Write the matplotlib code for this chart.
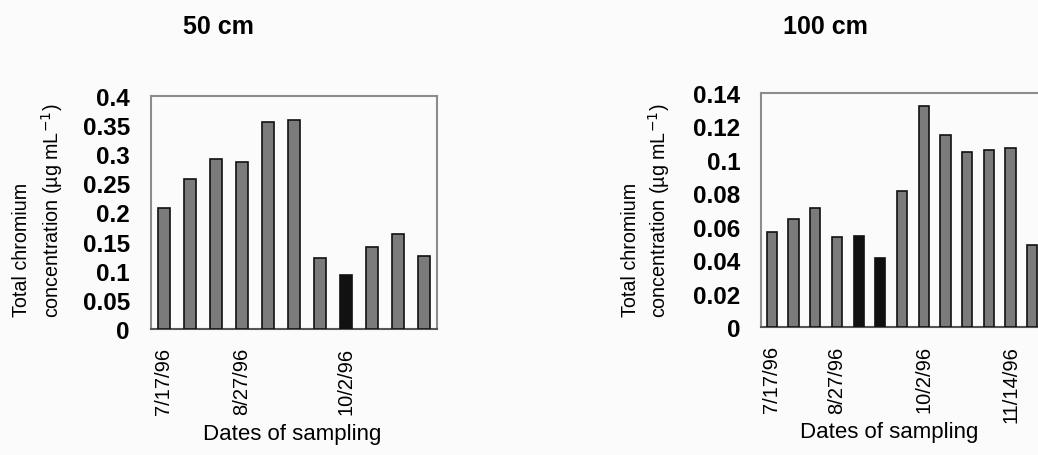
import numpy as np
import matplotlib.pyplot as plt

plt.rcParams['font.family'] = ['Liberation Sans', 'DejaVu Sans']

# 50 cm depth
dates_50 = ["7/17/96", "", "", "8/27/96", "", "", "", "10/2/96", "", "", ""]
cr_50 = [0.208, 0.258, 0.291, 0.287, 0.355, 0.359, 0.122, 0.092, 0.140, 0.163, 0.125]

# 100 cm depth
dates_100 = ["7/17/96", "", "", "8/27/96", "", "", "", "10/2/96", "", "", "", "11/14/96", ""]
cr_100 = [0.0568, 0.0648, 0.0712, 0.0538, 0.0548, 0.0413, 0.0817, 0.1322,
          0.1150, 0.1050, 0.1060, 0.1070, 0.0494]

# bars that came out dark in the scan
dark_50 = [7]
dark_100 = [4, 5]

bg = '#fbfbfb'
fig = plt.figure(figsize=(10.38, 4.56), dpi=100, facecolor=bg)


def panel(rect, vals, labels, dark, ymax, step, nslots):
    ax = fig.add_axes(rect)
    ax.set_facecolor(bg)
    x = np.arange(len(vals))
    cols = ['#111111' if i in dark else '#7b7b7b' for i in range(len(vals))]
    ax.bar(x, vals, width=0.47, color=cols, edgecolor='#111111', linewidth=1.2, zorder=3)
    ax.set_xlim(-0.5, nslots - 0.5)
    ax.set_ylim(0, ymax)
    ticks = np.arange(0, ymax + step / 2, step)
    ax.set_yticks(ticks)
    ax.set_yticklabels(['%g' % round(t, 3) for t in ticks], fontsize=17.5, fontweight='bold')
    ax.set_xticks(x)
    ax.set_xticklabels(labels, rotation=90, fontsize=14.5, va='top')
    ax.tick_params(axis='y', length=0, pad=15)
    ax.tick_params(axis='x', length=0, pad=13)
    for s in ['top', 'left', 'right']:
        ax.spines[s].set_color('#8c8c8c')
        ax.spines[s].set_linewidth(1.5)
    ax.spines['bottom'].set_color('#555555')
    ax.spines['bottom'].set_linewidth(1.5)
    return ax


panel([150.7 / 1038, 126 / 456, 286 / 1038, 233.3 / 456], cr_50, dates_50, dark_50,
      0.4, 0.05, len(cr_50))
panel([761 / 1038, 127.7 / 456, 303.8 / 1038, 234.3 / 456], cr_100, dates_100, dark_100,
      0.14, 0.02, 14)

# titles
fig.text(218 / 1038, 1 - 27 / 456, "50 cm", fontsize=18, fontweight='bold', ha='center', va='center')
fig.text(825 / 1038, 1 - 27 / 456, "100 cm", fontsize=18, fontweight='bold', ha='center', va='center')

# y labels
for x1, x2 in [(21.7, 51.7), (630, 659)]:
    fig.text(x1 / 1038, 1 - 317 / 456, "Total chromium", rotation=90, fontsize=14.2,
             ha='center', va='bottom')
    fig.text(x2 / 1038, 1 - 318 / 456, "concentration (µg mL$^{-1}$)", rotation=90,
             fontsize=14.2, ha='center', va='bottom')

# x labels
fig.text(291.7 / 1038, 1 - 435 / 456, "Dates of sampling", fontsize=16, ha='center', va='center')
fig.text(888.7 / 1038, 1 - 433 / 456, "Dates of sampling", fontsize=16, ha='center', va='center')

fig.savefig('out.png', dpi=100, facecolor=bg)
